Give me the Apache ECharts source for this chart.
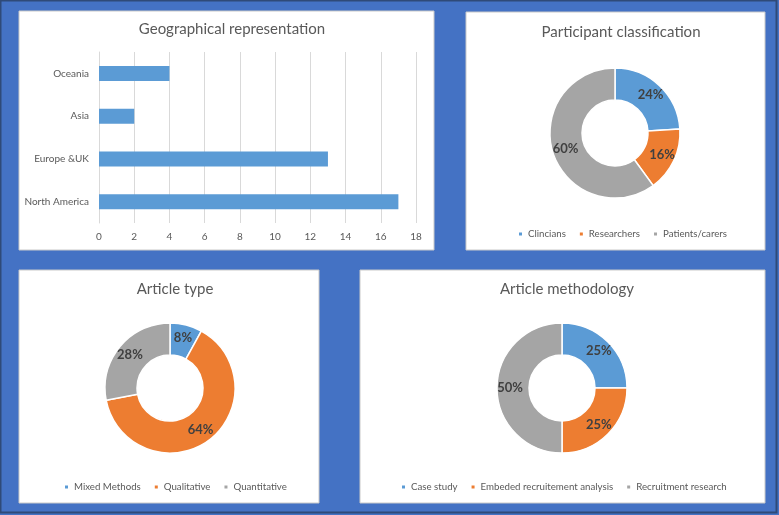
<!DOCTYPE html>
<html><head><meta charset="utf-8">
<script src="https://cdn.jsdelivr.net/npm/echarts@6/dist/echarts.min.js"></script>
<style>html,body{margin:0;padding:0;background:#4472C4;}#c{width:779px;height:515px;}</style>
</head><body><div id="c"></div>
<script>
const geoCategories = ['North America', 'Europe &UK', 'Asia', 'Oceania'];
const geoValues = [17, 13, 2, 4];
const participantNames = ['Clincians', 'Researchers', 'Patients/carers'];
const participantValues = [24, 16, 60];
const typeNames = ['Mixed Methods', 'Qualitative', 'Quantitative'];
const typeValues = [8, 64, 28];
const methodNames = ['Case study', 'Embeded recruitement analysis', 'Recruitment research'];
const methodValues = [25, 25, 50];
const colors = ['#5B9BD5', '#ED7D31', '#A5A5A5'];
const FONT = 'Lato, "Open Sans", sans-serif';
const TXT = '#595959';

function pieData(names, vals) { return names.map((n, i) => ({ name: n, value: vals[i], itemStyle: { color: colors[i] } })); }
function pieSeries(name, names, vals, cx, cy) {
  return {
    type: 'pie', name: name, center: [cx, cy], radius: [33, 65], startAngle: 90, clockwise: true,
    avoidLabelOverlap: false, silent: true,
    itemStyle: { borderColor: '#fff', borderWidth: 1.5 },
    label: { show: true, position: 'inside', formatter: '{c}%', fontFamily: FONT, fontSize: 13, fontWeight: 'bold', color: '#404040' },
    labelLine: { show: false },
    data: pieData(names, vals)
  };
}
function legend(names, x, y) {
  return { data: names, left: x, top: y, padding: 0, icon: 'rect', itemWidth: 5, itemHeight: 5, itemGap: 12,
    textStyle: { fontFamily: FONT, fontSize: 9.7, color: TXT }, selectedMode: false };
}
function title(text, cx, y) {
  return { text: text, left: cx, top: y, textAlign: 'center', textStyle: { fontFamily: FONT, fontSize: 15, fontWeight: 'normal', color: TXT } };
}
const chart = echarts.init(document.getElementById('c'));
const panelStyle = { fill: '#fff', stroke: '#C9C9C9', lineWidth: 1 };
const option = {
  animation: false,
  graphic: [
    { type: 'rect', z: -10, shape: { x: 0.5, y: 0.5, width: 776, height: 512 }, style: { fill: '#4472C4', stroke: '#2F4A78', lineWidth: 2 } },
    { type: 'rect', z: -5, shape: { x: 19, y: 11, width: 415, height: 239 }, style: panelStyle },
    { type: 'rect', z: -5, shape: { x: 466, y: 12, width: 299, height: 238 }, style: panelStyle },
    { type: 'rect', z: -5, shape: { x: 19, y: 270, width: 300, height: 233 }, style: panelStyle },
    { type: 'rect', z: -5, shape: { x: 360, y: 270, width: 405, height: 233 }, style: panelStyle }
  ],
  title: [
    title('Geographical representation', 227, 17),
    title('Participant classification', 616, 20),
    title('Article type', 170, 277),
    title('Article methodology', 562, 277)
  ],
  legend: [
    legend(participantNames, 517, 229),
    legend(typeNames, 63, 482),
    legend(methodNames, 400, 482)
  ],
  grid: { left: 99, right: 363, top: 52, bottom: 292 },
  xAxis: {
    type: 'value', min: 0, max: 18, interval: 2,
    axisLine: { show: false }, axisTick: { show: false },
    splitLine: { lineStyle: { color: '#D9D9D9', width: 1 } },
    axisLabel: { fontFamily: FONT, fontSize: 10, color: TXT, margin: 9 }
  },
  yAxis: {
    type: 'category', data: geoCategories,
    axisLine: { show: true, lineStyle: { color: '#D9D9D9' } }, axisTick: { show: false },
    axisLabel: { fontFamily: FONT, fontSize: 10, color: TXT, margin: 10 }
  },
  series: [
    { type: 'bar', data: geoValues, barWidth: 15, itemStyle: { color: '#5B9BD5' }, silent: true },
    pieSeries('p', participantNames, participantValues, 615, 133),
    pieSeries('t', typeNames, typeValues, 170, 388),
    pieSeries('m', methodNames, methodValues, 562, 388)
  ]
};
chart.setOption(option);
</script></body></html>
